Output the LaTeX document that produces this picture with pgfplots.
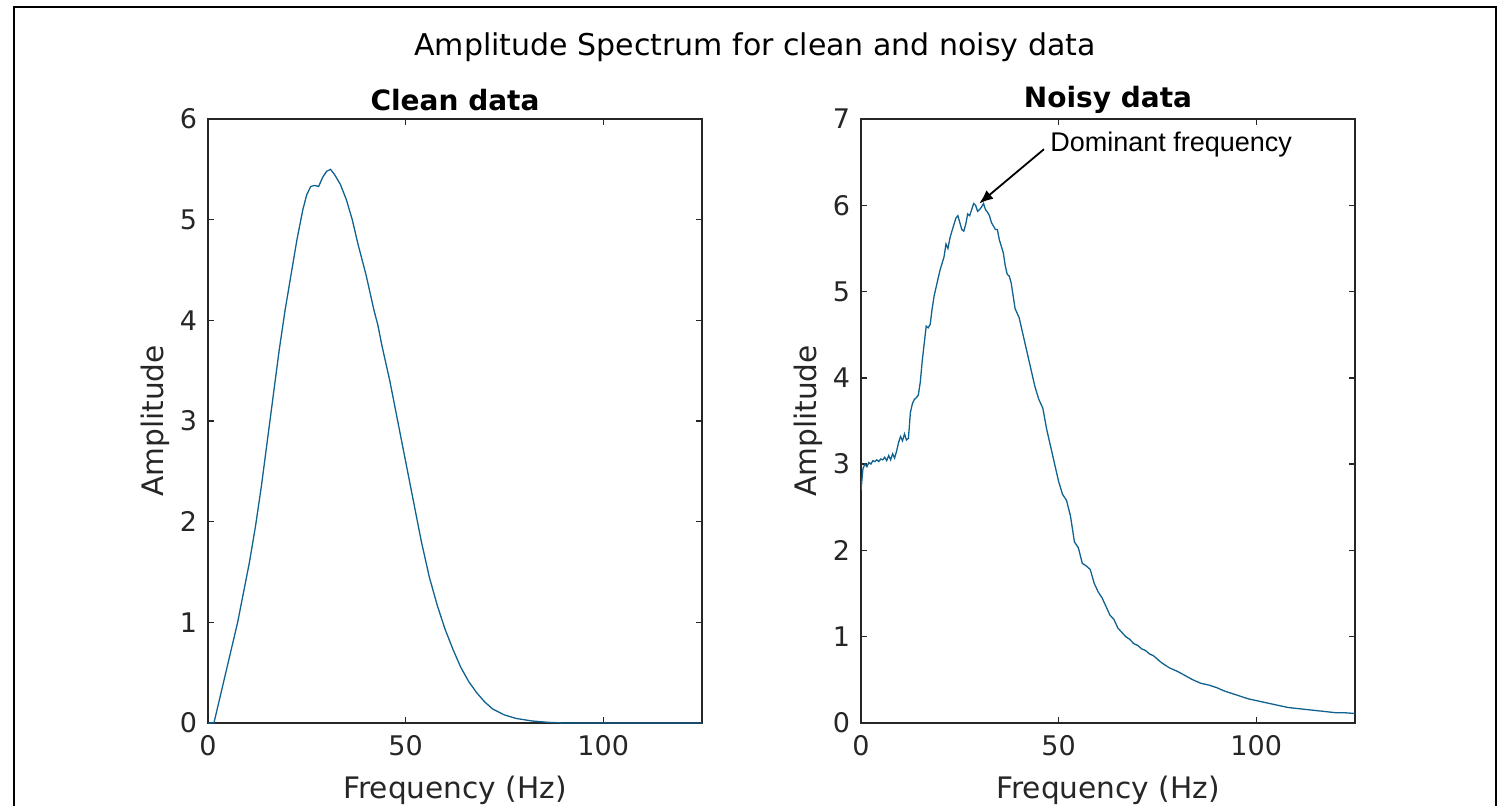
\documentclass[border=0pt]{standalone}
\usepackage{fontspec}
\setmainfont{DejaVu Sans}
\newfontfamily\annfont{Liberation Sans}
\usepackage{pgfplots}
\pgfplotsset{compat=1.18}
\usetikzlibrary{arrows.meta}
\definecolor{specline}{RGB}{16,98,145}
\definecolor{axgray}{RGB}{38,38,38}
\pgfplotsset{
  myax/.style={
    scale only axis, width=247pt, height=302pt,
    xmin=0, xmax=125, xtick={0,50,100},
    axis line style={axgray, line width=0.7pt},
    tick style={axgray, line width=0.7pt},
    major tick length=3pt, tick align=inside,
    ticklabel style={font=\fontsize{13.5}{16}\selectfont, text=axgray},
    xticklabel style={yshift=-2.5pt},
    yticklabel style={xshift=-2pt},
    /pgf/number format/assume math mode=true,
    every axis title shift=0pt,
    xlabel style={font=\fontsize{14.8}{17}\selectfont, text=axgray, at={(axis description cs:0.5,-0.112)}, anchor=center},
    ylabel style={font=\fontsize{14.8}{17}\selectfont, text=axgray, at={(axis description cs:-0.106,0.5)}, anchor=center},
    title style={font=\bfseries\fontsize{14}{16}\selectfont, at={(axis description cs:0.5,1.0315)}, anchor=center},
    xlabel={Frequency (Hz)}, ylabel={Amplitude},
  }
}
\pgfplotstableread{
f A
0 0
1.5 0.0
3 0.25
4.5 0.5
6 0.75
7.5 1.0
9 1.3
10.5 1.6
12 1.95
13.5 2.35
15 2.8
16.5 3.25
18 3.7
19.5 4.1
21 4.45
22.5 4.8
24 5.1
25 5.25
26 5.33
27 5.34
28 5.33
29 5.42
30 5.48
31 5.5
32 5.45
33.5 5.35
35 5.2
36.5 5.0
38 4.75
40 4.45
42 4.1
43 3.95
44 3.75
46 3.4
48 3.0
50 2.6
52 2.2
54 1.8
56 1.45
58 1.17
60 0.93
62 0.73
64 0.55
66 0.41
68 0.3
70 0.21
72 0.14
75 0.08
78 0.045
82 0.02
86 0.007
90 0
125 0
}\cleandata
\pgfplotstableread{
f A
0 2.7
0.5 2.95
1 3.0
1.5 2.97
2 3.02
2.5 3.0
3 3.04
3.5 3.03
4 3.05
4.5 3.03
5 3.06
5.5 3.05
6 3.08
6.5 3.04
7 3.1
7.5 3.05
8 3.12
8.5 3.07
9 3.15
9.5 3.25
10 3.32
10.5 3.27
11 3.35
11.5 3.28
12 3.3
12.5 3.6
13 3.7
13.5 3.75
14 3.77
14.5 3.8
15 3.95
15.5 4.2
16 4.4
16.5 4.6
17 4.58
17.5 4.62
18 4.8
18.5 4.95
19 5.05
19.5 5.15
20 5.25
21 5.4
21.5 5.55
22 5.5
22.5 5.62
23 5.7
24 5.85
24.5 5.88
25 5.8
25.5 5.72
26 5.7
26.5 5.78
27 5.9
27.5 5.88
28 5.95
28.5 6.02
29 6.0
29.5 5.93
30 5.95
30.5 5.98
31 6.02
31.5 5.95
32 5.92
32.5 5.88
33 5.8
34 5.72
34.5 5.72
35 5.6
36 5.45
36.5 5.3
37 5.2
37.5 5.18
38 5.1
38.5 4.95
39 4.8
40 4.7
41 4.5
42 4.3
43 4.1
44 3.9
45 3.75
46 3.65
47 3.4
48 3.2
49 3.0
50 2.8
51 2.65
52 2.58
53 2.4
54 2.1
55 2.03
56 1.85
57 1.82
58 1.78
59 1.62
60 1.52
61 1.45
62 1.35
63 1.25
64 1.2
65 1.1
66 1.05
67 1.0
68 0.97
69 0.92
70 0.9
71 0.86
72 0.84
73 0.8
74 0.78
75 0.74
76 0.7
77 0.67
78 0.64
79 0.62
80 0.6
82 0.55
84 0.5
86 0.46
88 0.44
90 0.41
92 0.37
94 0.34
96 0.31
98 0.28
100 0.26
102 0.24
104 0.22
106 0.2
108 0.18
110 0.17
112 0.16
114 0.15
116 0.14
118 0.13
120 0.12
122 0.12
125 0.11
}\noisydata
\begin{document}
\begin{tikzpicture}
\path[use as bounding box] (0pt,0pt) rectangle (753pt,402.5pt);
\draw[black, line width=1pt] (7pt,-2pt) -- (7pt,399pt) -- (748pt,399pt) -- (748pt,-2pt);
\node[anchor=center, font=\fontsize{15}{18}\selectfont] at (377.5pt,379pt) {Amplitude Spectrum for clean and noisy data};
\begin{axis}[myax, at={(104pt,41pt)}, anchor=south west, ymin=0, ymax=6, ytick={0,1,2,3,4,5,6}, title={Clean data}]
\addplot[specline, line width=0.65pt, no marks] table[x=f,y=A] {\cleandata};
\end{axis}
\begin{axis}[myax, at={(430.5pt,41pt)}, anchor=south west, ymin=0, ymax=7, ytick={0,1,2,3,4,5,6,7}, title={Noisy data}]
\addplot[specline, line width=0.65pt, no marks] table[x=f,y=A] {\noisydata};
\draw[-{Latex[length=7pt,width=5.5pt]}, line width=0.9pt, black] (axis cs:46.3,6.65) -- (axis cs:29.9,6.02);
\node[anchor=west, font=\annfont\fontsize{13.5}{16}\selectfont, inner sep=0pt] at (axis cs:47.8,6.71) {Dominant frequency};
\end{axis}
\end{tikzpicture}
\end{document}
